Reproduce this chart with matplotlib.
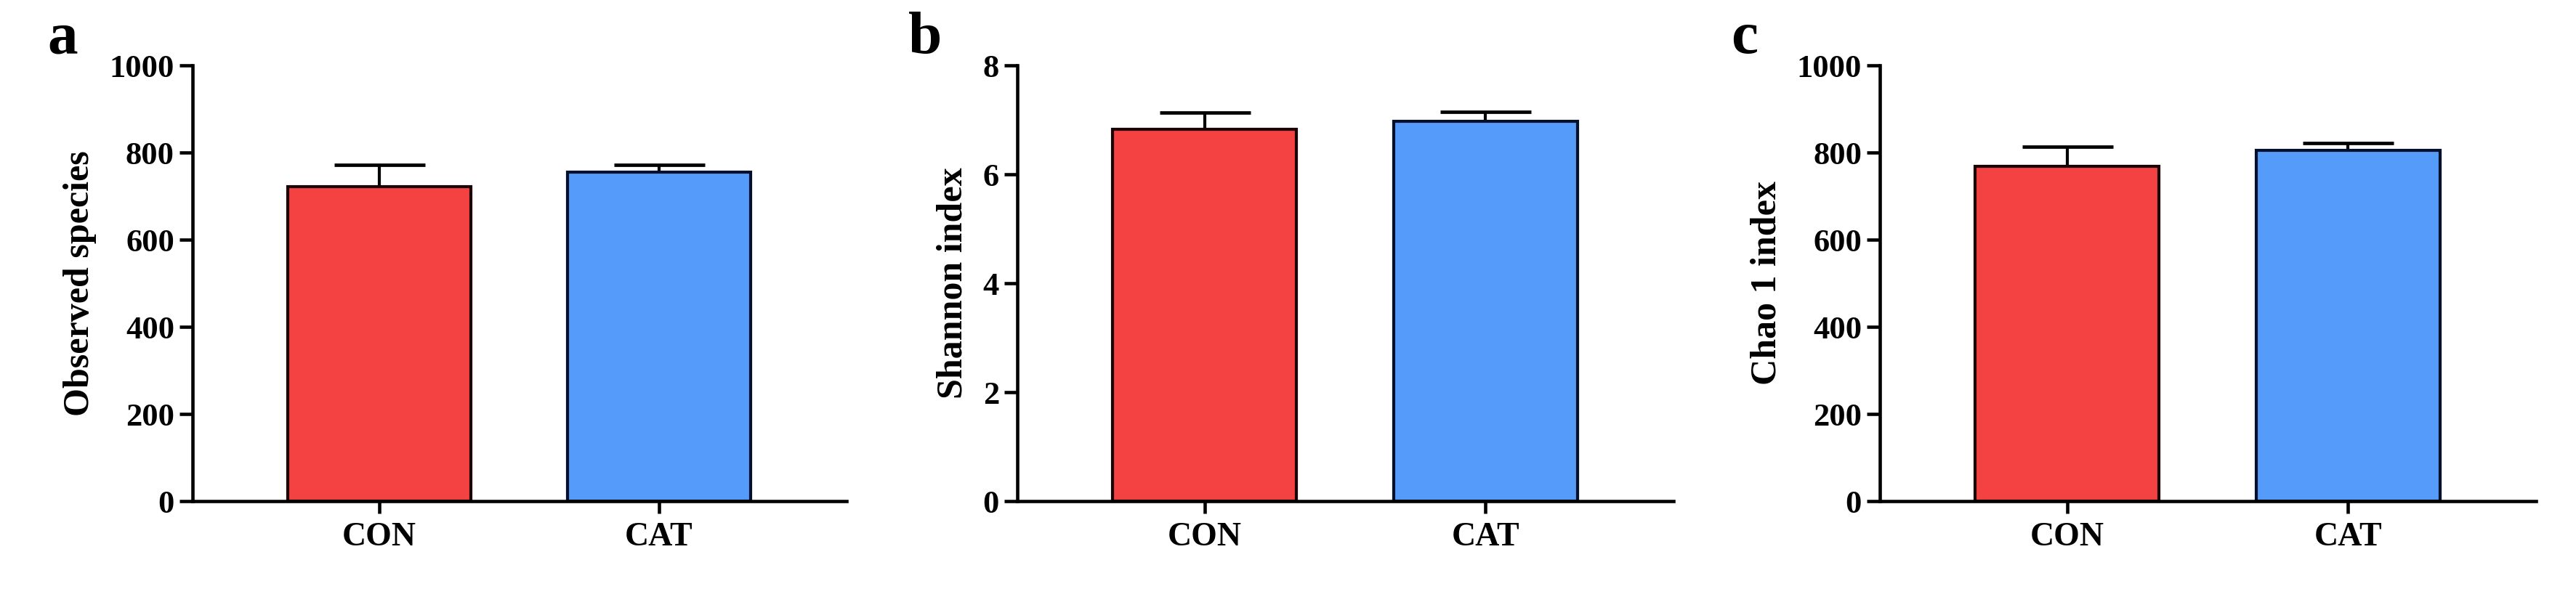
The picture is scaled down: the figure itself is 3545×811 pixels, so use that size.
import matplotlib
matplotlib.use("Agg")
import matplotlib.pyplot as plt
import numpy as np

plt.rcParams["font.family"] = ["Liberation Serif", "DejaVu Serif"]
plt.rcParams["font.weight"] = "bold"

groups = ["CON", "CAT"]
bar_colors = ["#F44141", "#559BFA"]
edge_colors = ["#1a0000", "#00102a"]

observed_mean = [722, 755]
observed_err = [49, 17]

shannon_mean = [6.83, 6.98]
shannon_err = [0.30, 0.17]

chao_mean = [768, 805]
chao_err = [45, 17]

panels = [
    ("a", "Observed species", observed_mean, observed_err, 1000, [0, 200, 400, 600, 800, 1000]),
    ("b", "Shannon index", shannon_mean, shannon_err, 8, [0, 2, 4, 6, 8]),
    ("c", "Chao 1 index", chao_mean, chao_err, 1000, [0, 200, 400, 600, 800, 1000]),
]

W, H = 3545, 811
axis_lefts = [265, 1400, 2587]
axis_widths = [900, 903, 903]
axis_bottom = 690
axis_top = 90
letter_x = [65, 1250, 2382]


def draw_panel(axis, means, errs, ymax, yticks, ylabel):
    x = np.arange(len(groups))
    container = axis.errorbar(x, means, yerr=[np.zeros(len(means)), errs],
                              fmt="none", ecolor="black", elinewidth=3.0,
                              capsize=45, capthick=3.4, zorder=1)
    # only the upper cap is drawn, as in GraphPad style plots
    container[1][0].set_visible(False)
    axis.bar(x, means, width=0.655, color=bar_colors, edgecolor=edge_colors,
             linewidth=3.0, zorder=2)

    axis.set_xlim(-0.667, 1.67)
    axis.set_ylim(0, ymax)
    axis.set_yticks(yticks)
    axis.set_xticks(x)
    axis.set_xticklabels(groups, fontsize=33, fontweight="bold")
    for label in axis.get_yticklabels():
        label.set_fontsize(32)
        label.set_fontweight("bold")

    axis.spines["top"].set_visible(False)
    axis.spines["right"].set_visible(False)
    for side in ("left", "bottom"):
        axis.spines[side].set_linewidth(3.3)
        axis.spines[side].set_zorder(3)

    axis.tick_params(axis="y", direction="out", length=13, width=3.3, pad=5)
    axis.tick_params(axis="x", direction="out", length=12, width=3.3, pad=9)
    axis.set_ylabel(ylabel, fontsize=36, fontweight="bold", labelpad=13)


figure = plt.figure(figsize=(W / 100, H / 100), dpi=100)

for index, (letter, ylabel, means, errs, ymax, yticks) in enumerate(panels):
    rect = [axis_lefts[index] / W, (H - axis_bottom) / H,
            axis_widths[index] / W, (axis_bottom - axis_top) / H]
    axis = figure.add_axes(rect)
    draw_panel(axis, means, errs, ymax, yticks, ylabel)
    figure.text(letter_x[index] / W, (H - 73) / H, letter, fontsize=60,
                fontweight="bold", ha="left", va="baseline")

figure.savefig("out.png", dpi=100)
